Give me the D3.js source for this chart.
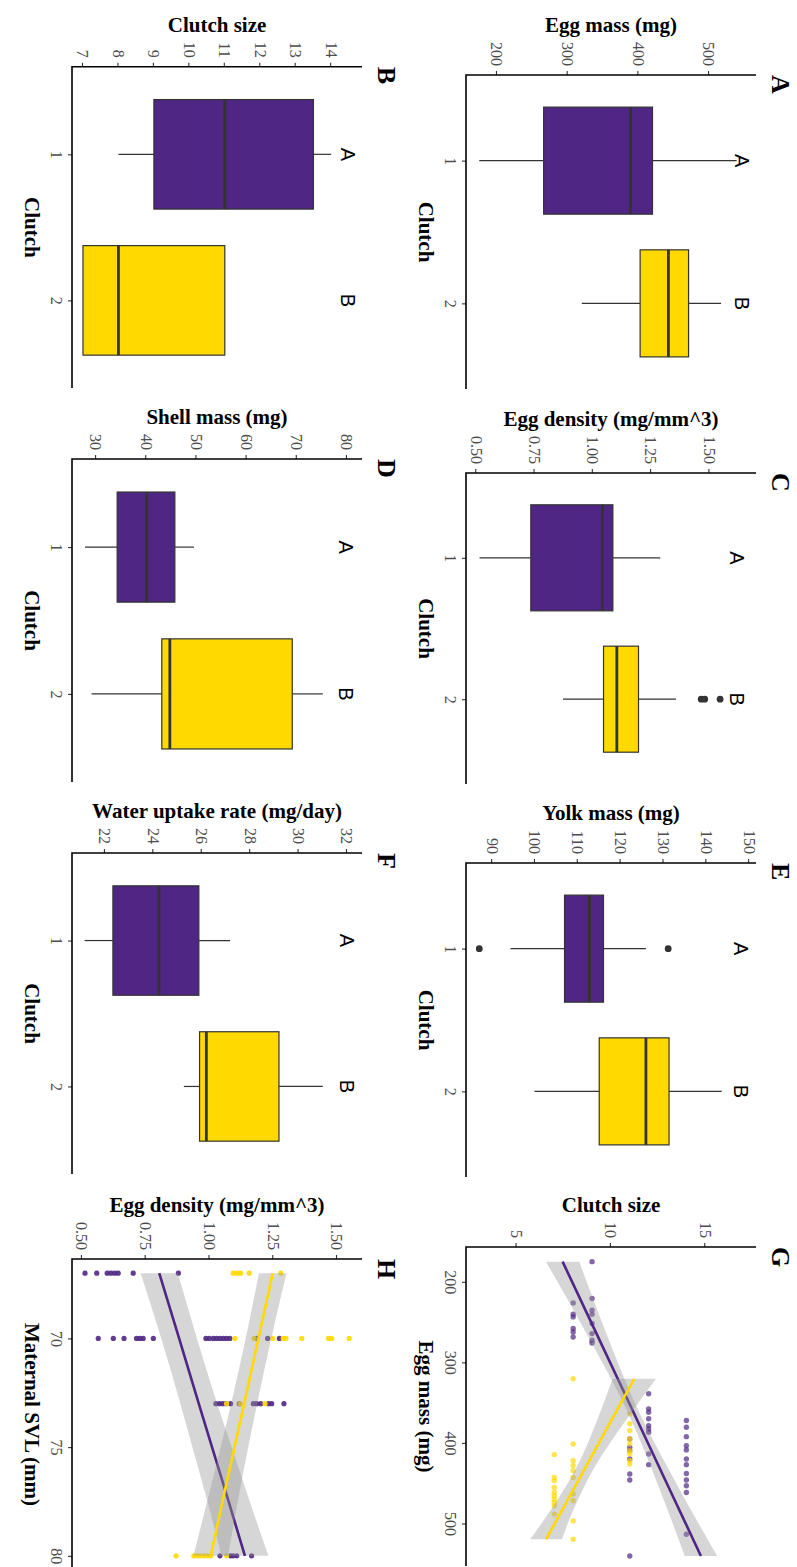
<!DOCTYPE html>
<html>
<head>
<meta charset="utf-8">
<script src="https://cdn.jsdelivr.net/npm/d3@7"></script>
<style>
  body { margin: 0; background: #fff; }
  svg { display: block; }
</style>
</head>
<body>
<svg id="fig" width="797" height="1567"></svg>
<script>
// ------------------------------------------------------------------
// Data
// ------------------------------------------------------------------
const clutches = ["1", "2"];
const sigLetters = ["A", "B"];

// Box summaries per clutch: [lower whisker, Q1, median, Q3, upper whisker]
const eggMassBox      = [[175, 266, 389, 420, 539], [320, 402.5, 442.5, 471, 517]];
const clutchSizeBox   = [[8, 9, 11, 13.5, 14], [7, 7, 8, 11, 11]];
const eggDensityBox   = [[0.514, 0.734, 1.041, 1.086, 1.289], [0.872, 1.046, 1.103, 1.196, 1.357]];
const shellMassBox    = [[27.8, 34.2, 40.1, 45.7, 49.5], [29.1, 43.1, 44.7, 69.1, 75.2]];
const yolkMassBox     = [[94.3, 106.9, 112.7, 116.0, 125.9], [99.9, 115.0, 125.9, 131.3, 143.6]];
const waterUptakeBox  = [[21.16, 22.33, 24.23, 25.88, 27.17], [25.26, 25.91, 26.19, 29.19, 31.0]];

// Outliers per clutch
const eggDensityOutliers = [[], [1.465, 1.48, 1.546]];
const yolkMassOutliers   = [[87.0, 131.1], []];

// Height (in data units) of the significance letters per panel
const eggMassLetterAt     = 546;
const clutchSizeLetterAt  = 14.47;
const eggDensityLetterAt  = 1.617;
const shellMassLetterAt   = 79.9;
const yolkMassLetterAt    = 148.2;
const waterUptakeLetterAt = 31.98;

// Tick values
const eggMassTicks     = [200, 300, 400, 500];
const clutchSizeTicks  = [7, 8, 9, 10, 11, 12, 13, 14];
const densityTicks     = [0.50, 0.75, 1.00, 1.25, 1.50];
const shellMassTicks   = [30, 40, 50, 60, 70, 80];
const yolkMassTicks    = [90, 100, 110, 120, 130, 140, 150];
const waterUptakeTicks = [22, 24, 26, 28, 30, 32];
const gClutchTicks     = [5, 10, 15];
const gEggMassTicks    = [200, 300, 400, 500];
const svlTicks         = [70, 75, 80];

// G: clutch size vs egg mass, points per clutch ([egg mass, clutch size])
const gClutch1 = [
  [175, 9], [220.7, 9], [235.2, 9], [240.2, 9], [251.8, 9], [264.3, 9], [272.6, 9], [276, 9],
  [226.2, 8], [240.2, 8], [243.6, 8], [258, 8], [262.3, 8], [268.5, 8],
  [339, 12], [357.7, 12], [362, 12], [370, 12], [378.5, 12], [382.6, 12], [386.8, 12], [413.7, 12], [427, 12],
  [372.2, 14], [380.5, 14], [392.2, 14], [403.4, 14], [408.7, 14], [419.9, 14], [427, 14], [437.9, 14],
  [446.1, 14], [453.2, 14], [461.5, 14], [513.3, 14],
  [395.1, 11], [405.5, 11], [409.7, 11], [419.9, 11], [438.6, 11], [446.1, 11], [540.3, 11]
];
const gClutch2 = [
  [320.4, 8], [401.2, 8], [422, 8], [428.3, 8], [434.5, 8], [442.8, 8], [463.5, 8], [471.8, 8], [496.8, 8], [519.6, 8],
  [414.5, 7], [442.8, 7], [446.9, 7], [455.3, 7], [461.5, 7], [465.6, 7], [469.8, 7], [474, 7], [478.2, 7], [488.4, 7],
  [363.9, 11], [376.3, 11], [384.7, 11], [395.1, 11], [401.2, 11], [409.7, 11], [413.7, 11], [422, 11], [426.2, 11]
];
// G: linear fits with confidence band ([egg mass, fit, lower, upper])
const gFit1 = [[175, 7.44, 6.56, 8.32], [260, 9.15, 8.61, 9.69], [360, 11.16, 10.86, 11.46],
               [450, 12.96, 12.46, 13.46], [540.3, 14.77, 13.91, 15.63]];
const gFit2 = [[320.4, 11.24, 10.09, 12.39], [370, 10.07, 9.30, 10.85], [430, 8.66, 8.19, 9.14],
               [480, 7.49, 6.91, 8.07], [519.6, 6.56, 5.72, 7.40]];

// H: egg density vs maternal SVL, points per clutch ([SVL, egg density])
const hClutch1 = [
  [67, 0.512], [67, 0.558], [67, 0.599], [67, 0.614], [67, 0.629], [67, 0.642], [67, 0.701], [67, 0.878],
  [70, 0.564], [70, 0.623], [70, 0.665], [70, 0.714], [70, 0.727], [70, 0.740], [70, 0.780],
  [70, 0.986], [70, 0.999], [70, 1.015], [70, 1.028], [70, 1.041], [70, 1.054], [70, 1.067], [70, 1.080],
  [70, 1.185], [70, 1.228], [70, 1.274],
  [73, 1.025], [73, 1.039], [73, 1.052], [73, 1.065], [73, 1.083], [73, 1.117], [73, 1.172], [73, 1.185],
  [73, 1.201], [73, 1.231], [73, 1.244], [73, 1.292],
  [80, 1.041], [80, 1.083], [80, 1.093], [80, 1.107], [80, 1.165]
];
const hClutch2 = [
  [67, 1.093], [67, 1.109], [67, 1.122], [67, 1.156], [67, 1.280],
  [70, 1.100], [70, 1.175], [70, 1.248], [70, 1.289], [70, 1.300], [70, 1.362], [70, 1.466], [70, 1.479], [70, 1.548],
  [73, 1.067], [73, 1.120], [73, 1.218],
  [80, 0.869], [80, 0.939], [80, 0.952], [80, 0.963], [80, 0.978], [80, 0.991], [80, 1.005], [80, 1.067]
];
// H: linear fits with confidence band ([SVL, fit, lower, upper])
const hFit1 = [[67, 0.803, 0.730, 0.876], [70, 0.881, 0.811, 0.951], [73, 0.958, 0.886, 1.030],
               [75, 1.010, 0.933, 1.087], [77.5, 1.075, 0.992, 1.158], [80, 1.139, 1.047, 1.231]];
const hFit2 = [[67, 1.248, 1.194, 1.302], [70, 1.192, 1.142, 1.242], [73, 1.136, 1.085, 1.187],
               [75, 1.098, 1.044, 1.152], [77.5, 1.051, 0.991, 1.111], [80, 1.005, 0.937, 1.073]];

// ------------------------------------------------------------------
// Styling
// ------------------------------------------------------------------
const PURPLE = "#4F2683";
const YELLOW = "#FFD900";
const groupFill = [PURPLE, YELLOW];
const SERIF = "'Liberation Serif', 'Times New Roman', serif";
const SANS = "'Liberation Sans', Arial, sans-serif";

// The figure is laid out in landscape and turned a quarter turn clockwise.
const svg = d3.select("#fig");
svg.append("rect").attr("width", 797).attr("height", 1567).attr("fill", "#fff");
const fig = svg.append("g").attr("transform", "translate(797,0) rotate(90)");

const ROW_TOP = { top: 41, bot: 331 };
const ROW_BOTTOM = { top: 435, bot: 725 };

// Axes, titles and panel tag
function drawFrame(o) {
  const g = fig.append("g");
  const ya = g.append("g").attr("transform", `translate(${o.x0},0)`)
    .call(d3.axisLeft(o.y).tickValues(o.yTicks).tickFormat(o.yFmt || (d => d))
      .tickSize(4).tickSizeOuter(0).tickPadding(5));
  const xa = g.append("g").attr("transform", `translate(0,${o.row.bot})`)
    .call(d3.axisBottom(o.x).tickValues(o.xTicks).tickFormat(o.xFmt || (d => d))
      .tickSize(4).tickSizeOuter(0).tickPadding(6));
  [ya, xa].forEach(a => {
    a.select(".domain").remove();
    a.selectAll(".tick line").attr("stroke", "#333").attr("stroke-width", 1.1);
    a.selectAll(".tick text").attr("fill", "#4d4d4d")
      .style("font-family", SERIF).style("font-size", "16px");
  });
  g.append("path")
    .attr("d", `M${o.x0},${o.row.top}V${o.row.bot}H${o.x1}`)
    .attr("fill", "none").attr("stroke", "#000").attr("stroke-width", 1.6);

  let w = 0;
  ya.selectAll(".tick text").each(function () { w = Math.max(w, this.getComputedTextLength()); });
  g.append("text")
    .attr("transform", `translate(${o.x0 - 9 - w - 10},${(o.row.top + o.row.bot) / 2}) rotate(-90)`)
    .attr("text-anchor", "middle")
    .style("font-family", SERIF).style("font-size", "21px").style("font-weight", "bold")
    .text(o.yTitle);
  g.append("text")
    .attr("x", (o.x0 + o.x1) / 2).attr("y", o.row.bot + 47.5)
    .attr("text-anchor", "middle")
    .style("font-family", SERIF).style("font-size", "21px").style("font-weight", "bold")
    .text(o.xTitle);
  g.append("text")
    .attr("x", o.x0).attr("y", o.row.top - 16)
    .style("font-family", SERIF).style("font-size", "26px").style("font-weight", "bold")
    .text(o.tag);
  return g;
}

// Box plot panel
function boxPanel(o) {
  const x = d3.scalePoint().domain(clutches).range([o.x0, o.x1]).padding(0.6);
  const y = d3.scaleLinear().domain(o.yDomain).range([o.row.bot, o.row.top]);
  const bw = x.step() * 0.75;
  const g = fig.append("g");
  o.boxes.forEach((b, i) => {
    const cx = x(clutches[i]);
    const [lw, q1, md, q3, uw] = b;
    g.append("line").attr("x1", cx).attr("x2", cx).attr("y1", y(q1)).attr("y2", y(lw))
      .attr("stroke", "#333").attr("stroke-width", 1.2);
    g.append("line").attr("x1", cx).attr("x2", cx).attr("y1", y(q3)).attr("y2", y(uw))
      .attr("stroke", "#333").attr("stroke-width", 1.2);
    g.append("rect").attr("x", cx - bw / 2).attr("width", bw)
      .attr("y", y(q3)).attr("height", y(q1) - y(q3))
      .attr("fill", groupFill[i]).attr("stroke", "#333").attr("stroke-width", 1.2);
    g.append("line").attr("x1", cx - bw / 2).attr("x2", cx + bw / 2)
      .attr("y1", y(md)).attr("y2", y(md))
      .attr("stroke", "#333").attr("stroke-width", 2.8);
    (o.outliers ? o.outliers[i] : []).forEach(v => {
      g.append("circle").attr("cx", cx).attr("cy", y(v)).attr("r", 3.4).attr("fill", "#333");
    });
    g.append("text").attr("x", cx).attr("y", y(o.letterAt))
      .attr("text-anchor", "middle").attr("dominant-baseline", "central")
      .style("font-family", SANS).style("font-size", "20px")
      .text(sigLetters[i]);
  });
  drawFrame({ x, y, x0: o.x0, x1: o.x1, row: o.row, yTicks: o.yTicks, yFmt: o.yFmt,
              xTicks: clutches, yTitle: o.yTitle, xTitle: "Clutch", tag: o.tag });
}

// Scatter panel with linear fits
function scatterPanel(o) {
  const x = d3.scaleLinear().domain(o.xDomain).range([o.x0, o.x1]);
  const y = d3.scaleLinear().domain(o.yDomain).range([o.row.bot, o.row.top]);
  const g = fig.append("g");
  o.points.forEach((pts, i) => {
    g.append("g").selectAll("circle").data(pts).join("circle")
      .attr("cx", d => x(d[0])).attr("cy", d => y(d[1])).attr("r", o.r)
      .attr("fill", groupFill[i]).attr("fill-opacity", o.alpha);
  });
  o.fits.forEach((f, i) => {
    g.append("path").datum(f)
      .attr("d", d3.area().x(d => x(d[0])).y0(d => y(d[2])).y1(d => y(d[3])).curve(d3.curveMonotoneX))
      .attr("fill", "#999").attr("fill-opacity", 0.4);
    g.append("path").datum(f)
      .attr("d", d3.line().x(d => x(d[0])).y(d => y(d[1])))
      .attr("fill", "none").attr("stroke", groupFill[i]).attr("stroke-width", 2.6);
  });
  drawFrame({ x, y, x0: o.x0, x1: o.x1, row: o.row, yTicks: o.yTicks, yFmt: o.yFmt,
              xTicks: o.xTicks, yTitle: o.yTitle, xTitle: o.xTitle, tag: o.tag });
}

const fmt2 = d3.format(".2f");

boxPanel({ tag: "A", row: ROW_TOP, x0: 75, x1: 389, yDomain: [156.2, 566.4], yTicks: eggMassTicks,
           boxes: eggMassBox, letterAt: eggMassLetterAt, yTitle: "Egg mass (mg)" });
boxPanel({ tag: "B", row: ROW_BOTTOM, x0: 66.7, x1: 388, yDomain: [6.69, 14.87], yTicks: clutchSizeTicks,
           boxes: clutchSizeBox, letterAt: clutchSizeLetterAt, yTitle: "Clutch size" });
boxPanel({ tag: "C", row: ROW_TOP, x0: 473, x1: 784, yDomain: [0.456, 1.70], yTicks: densityTicks, yFmt: fmt2,
           boxes: eggDensityBox, outliers: eggDensityOutliers, letterAt: eggDensityLetterAt,
           yTitle: "Egg density (mg/mm^3)" });
boxPanel({ tag: "D", row: ROW_BOTTOM, x0: 459, x1: 782, yDomain: [25.2, 83.0], yTicks: shellMassTicks,
           boxes: shellMassBox, letterAt: shellMassLetterAt, yTitle: "Shell mass (mg)" });
boxPanel({ tag: "E", row: ROW_TOP, x0: 863, x1: 1177, yDomain: [83.9, 151.6], yTicks: yolkMassTicks,
           boxes: yolkMassBox, outliers: yolkMassOutliers, letterAt: yolkMassLetterAt, yTitle: "Yolk mass (mg)" });
boxPanel({ tag: "F", row: ROW_BOTTOM, x0: 853, x1: 1174, yDomain: [20.64, 32.62], yTicks: waterUptakeTicks,
           boxes: waterUptakeBox, letterAt: waterUptakeLetterAt, yTitle: "Water uptake rate (mg/day)" });
scatterPanel({ tag: "G", row: ROW_TOP, x0: 1247, x1: 1566, xDomain: [156.8, 552.8], yDomain: [2.32, 17.69],
               xTicks: gEggMassTicks, yTicks: gClutchTicks, points: [gClutch1, gClutch2], fits: [gFit1, gFit2],
               r: 2.7, alpha: 0.7, yTitle: "Clutch size", xTitle: "Egg mass (mg)" });
scatterPanel({ tag: "H", row: ROW_BOTTOM, x0: 1259, x1: 1570, xDomain: [66.35, 80.65], yDomain: [0.461, 1.598],
               xTicks: svlTicks, yTicks: densityTicks, yFmt: fmt2, points: [hClutch1, hClutch2], fits: [hFit1, hFit2],
               r: 2.6, alpha: 0.9, yTitle: "Egg density (mg/mm^3)", xTitle: "Maternal SVL (mm)" });
</script>
</body>
</html>
